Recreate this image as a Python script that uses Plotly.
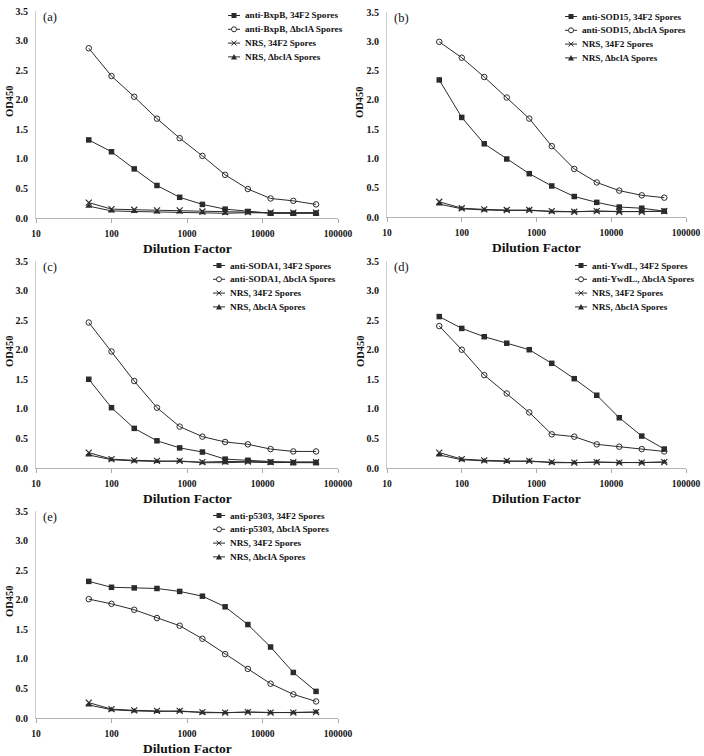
import plotly.graph_objects as go

dilution = [50, 100, 200, 400, 800, 1600, 3200, 6400, 12800, 25600, 51200]

# Panel (a) anti-BxpB
a_34f2 = [1.32, 1.12, 0.83, 0.55, 0.35, 0.23, 0.15, 0.11, 0.08, 0.08, 0.08]
a_bcla = [2.87, 2.40, 2.05, 1.68, 1.35, 1.05, 0.73, 0.49, 0.33, 0.29, 0.23]
a_nrs_34f2 = [0.26, 0.15, 0.14, 0.13, 0.13, 0.11, 0.10, 0.10, 0.09, 0.09, 0.09]
a_nrs_bcla = [0.20, 0.12, 0.11, 0.10, 0.10, 0.09, 0.08, 0.09, 0.08, 0.08, 0.09]

# Panel (b) anti-SOD15
b_34f2 = [2.34, 1.70, 1.25, 0.99, 0.74, 0.53, 0.35, 0.25, 0.17, 0.15, 0.10]
b_bcla = [2.99, 2.72, 2.39, 2.04, 1.68, 1.21, 0.82, 0.59, 0.45, 0.37, 0.33]
b_nrs_34f2 = [0.26, 0.15, 0.13, 0.12, 0.12, 0.10, 0.09, 0.10, 0.09, 0.09, 0.10]
b_nrs_bcla = [0.22, 0.14, 0.12, 0.11, 0.12, 0.09, 0.09, 0.10, 0.09, 0.09, 0.10]

# Panel (c) anti-SODA1
c_34f2 = [1.50, 1.02, 0.67, 0.46, 0.34, 0.27, 0.15, 0.13, 0.10, 0.09, 0.09]
c_bcla = [2.46, 1.97, 1.47, 1.02, 0.70, 0.53, 0.44, 0.40, 0.32, 0.28, 0.28]
c_nrs_34f2 = [0.26, 0.15, 0.13, 0.12, 0.12, 0.10, 0.11, 0.11, 0.10, 0.10, 0.10]
c_nrs_bcla = [0.22, 0.14, 0.12, 0.11, 0.12, 0.09, 0.09, 0.10, 0.09, 0.09, 0.10]

# Panel (d) anti-YwdL
d_34f2 = [2.56, 2.36, 2.22, 2.11, 2.00, 1.77, 1.51, 1.23, 0.85, 0.54, 0.32]
d_bcla = [2.40, 2.00, 1.57, 1.26, 0.94, 0.57, 0.53, 0.40, 0.36, 0.32, 0.28]
d_nrs_34f2 = [0.26, 0.15, 0.13, 0.12, 0.12, 0.10, 0.09, 0.10, 0.09, 0.09, 0.10]
d_nrs_bcla = [0.22, 0.14, 0.12, 0.11, 0.12, 0.09, 0.09, 0.10, 0.09, 0.09, 0.10]

# Panel (e) anti-p5303
e_34f2 = [2.31, 2.21, 2.20, 2.19, 2.14, 2.06, 1.88, 1.58, 1.20, 0.77, 0.45]
e_bcla = [2.01, 1.93, 1.83, 1.69, 1.56, 1.34, 1.08, 0.83, 0.58, 0.40, 0.28]
e_nrs_34f2 = [0.26, 0.15, 0.13, 0.12, 0.12, 0.10, 0.09, 0.10, 0.09, 0.09, 0.10]
e_nrs_bcla = [0.22, 0.14, 0.12, 0.11, 0.12, 0.09, 0.09, 0.10, 0.09, 0.09, 0.10]

panel_labels = ["(a)", "(b)", "(c)", "(d)", "(e)"]
legend_names = [
    ["anti-BxpB, 34F2 Spores", "anti-BxpB, \u0394bclA Spores", "NRS, 34F2 Spores", "NRS, \u0394bclA Spores"],
    ["anti-SOD15, 34F2 Spores", "anti-SOD15, \u0394bclA Spores", "NRS, 34F2 Spores", "NRS, \u0394bclA Spores"],
    ["anti-SODA1, 34F2 Spores", "anti-SODA1, \u0394bclA Spores", "NRS, 34F2 Spores", "NRS, \u0394bclA Spores"],
    ["anti-YwdL, 34F2 Spores", "anti-YwdL., \u0394bclA Spores", "NRS, 34F2 Spores", "NRS, \u0394bclA Spores"],
    ["anti-p5303, 34F2 Spores", "anti-p5303, \u0394bclA Spores", "NRS, 34F2 Spores", "NRS, \u0394bclA Spores"],
]
series = [
    [a_34f2, a_bcla, a_nrs_34f2, a_nrs_bcla],
    [b_34f2, b_bcla, b_nrs_34f2, b_nrs_bcla],
    [c_34f2, c_bcla, c_nrs_34f2, c_nrs_bcla],
    [d_34f2, d_bcla, d_nrs_34f2, d_nrs_bcla],
    [e_34f2, e_bcla, e_nrs_34f2, e_nrs_bcla],
]
x_ticks = [10, 100, 1000, 10000, 100000]
x_ticktext = ["10", "100", "1000", "10000", "100000"]
y_title = "OD450"
x_title = "Dilution Factor"

W, H = 704, 756
# pixel boxes of plot areas (x0, x1, ytop, ybottom)
boxes = [
    (36, 338, 11, 218),
    (387, 686, 12, 217),
    (36, 338, 261, 468),
    (387, 686, 261, 468),
    (36, 338, 511, 718),
]
# legend text start offset from plot right edge (px)
legend_offsets = [95, 106, 110, 96, 110]

FONT = "Liberation Serif"
LINE = "#2b2b2b"
TXT = "#111"
styles = [
    dict(symbol="square", size=5.5, color=LINE, line=dict(width=0)),
    dict(symbol="circle-open", size=5.5, color=LINE, line=dict(width=1)),
    dict(symbol="x-thin-open", size=6, color=LINE, line=dict(width=1.2, color=LINE)),
    dict(symbol="triangle-up", size=6, color=LINE, line=dict(width=0)),
]


def px(x):
    return x / W


def py(y):
    return 1 - y / H


fig = go.Figure()
annotations = []
shapes = []
layout = dict(
    width=W, height=H, margin=dict(l=0, r=0, t=0, b=0, autoexpand=False),
    paper_bgcolor="white", plot_bgcolor="white", showlegend=False, hovermode=False,
    font=dict(family=FONT, color=TXT, size=10),
)

for i in range(5):
    n = i + 1
    xa = "x" if n == 1 else f"x{n}"
    ya = "y" if n == 1 else f"y{n}"
    for j in range(4):
        fig.add_trace(go.Scatter(
            x=dilution, y=series[i][j], mode="lines+markers",
            name=legend_names[i][j], xaxis=xa, yaxis=ya,
            line=dict(color=LINE, width=1), marker=styles[j],
        ))
    x0, x1, yt, yb = boxes[i]
    xkey = "xaxis" if n == 1 else f"xaxis{n}"
    ykey = "yaxis" if n == 1 else f"yaxis{n}"
    layout[xkey] = dict(
        type="log", range=[1, 5], domain=[px(x0), px(x1)], anchor=ya, automargin=False,
        tickvals=x_ticks, ticktext=x_ticktext, ticklabelstandoff=3,
        ticks="outside", ticklen=4, tickcolor="#aaa", showline=True,
        linecolor="#b5b5b5", linewidth=1, showgrid=False, zeroline=False,
        tickfont=dict(family=FONT, size=9.5, color=TXT, weight="bold"),
    )
    layout[ykey] = dict(
        range=[0, 3.5], domain=[py(yb), py(yt)], anchor=xa, dtick=0.5, tick0=0, automargin=False,
        tickformat=".1f", ticks="", showline=True, linecolor="#cfcfcf", linewidth=1,
        showgrid=False, zeroline=False, ticklabelstandoff=5,
        tickfont=dict(family=FONT, size=10, color=TXT, weight="bold"),
    )
    # axis titles
    annotations.append(dict(
        text=f"<b>{x_title}</b>", x=px((x0 + x1) / 2), y=py(yb + 30),
        xref="paper", yref="paper", xanchor="center", yanchor="middle",
        showarrow=False, font=dict(family=FONT, size=13.5, color=TXT),
    ))
    annotations.append(dict(
        text=f"<b>{y_title}</b>", x=px(x0 - 27), y=py(yt + 90), textangle=-90,
        xref="paper", yref="paper", xanchor="center", yanchor="middle",
        showarrow=False, font=dict(family=FONT, size=10.5, color=TXT),
    ))
    # panel label
    annotations.append(dict(
        text=panel_labels[i], x=px(x0 + 5), y=py(yt + 6),
        xref="paper", yref="paper", xanchor="left", yanchor="middle",
        showarrow=False, font=dict(family=FONT, size=12.5, color=TXT),
    ))
    # legend (drawn manually to match the compact row spacing)
    tx = x1 - legend_offsets[i]
    for j in range(4):
        ry = yt + 4.5 + j * 13.8
        annotations.append(dict(
            text=f"<b>{legend_names[i][j]}</b>", x=px(tx), y=py(ry),
            xref="paper", yref="paper", xanchor="left", yanchor="middle",
            showarrow=False, font=dict(family=FONT, size=9.2, color=TXT),
        ))
        cx = tx - 9
        shapes.append(dict(type="line", xref="paper", yref="paper",
                           x0=px(cx - 6), x1=px(cx + 6), y0=py(ry), y1=py(ry),
                           line=dict(color=LINE, width=1)))
        if j == 0:
            shapes.append(dict(type="rect", xref="paper", yref="paper",
                               x0=px(cx - 2.5), x1=px(cx + 2.5), y0=py(ry - 2.5), y1=py(ry + 2.5),
                               fillcolor=LINE, line=dict(width=0)))
        elif j == 1:
            shapes.append(dict(type="circle", xref="paper", yref="paper",
                               x0=px(cx - 2.5), x1=px(cx + 2.5), y0=py(ry - 2.5), y1=py(ry + 2.5),
                               fillcolor="white", line=dict(color=LINE, width=1)))
        elif j == 2:
            for s in (-1, 1):
                shapes.append(dict(type="line", xref="paper", yref="paper",
                                   x0=px(cx - 2.5), x1=px(cx + 2.5),
                                   y0=py(ry - 2.5 * s), y1=py(ry + 2.5 * s),
                                   line=dict(color=LINE, width=1)))
        else:
            shapes.append(dict(type="path", xref="paper", yref="paper",
                               path=(f"M{px(cx - 3)},{py(ry + 2.5)} L{px(cx + 3)},{py(ry + 2.5)} "
                                     f"L{px(cx)},{py(ry - 3)} Z"),
                               fillcolor=LINE, line=dict(width=0)))

layout["annotations"] = annotations
layout["shapes"] = shapes
fig.update_layout(**layout)
fig.write_html(
    "out.html",
    config={"displayModeBar": False, "staticPlot": True},
    post_script="document.body.style.margin='0px';document.body.style.overflow='hidden';",
)
